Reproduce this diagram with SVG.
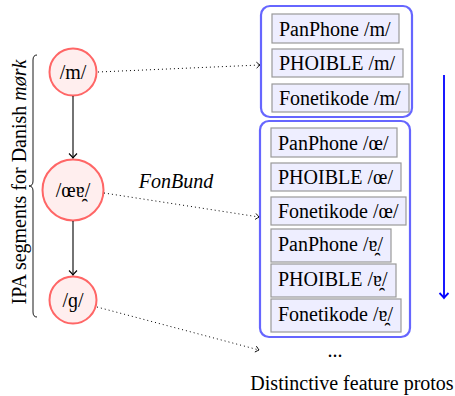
<svg xmlns="http://www.w3.org/2000/svg" width="455" height="396" viewBox="0 0 455 396">
  <style>
    text { font-family: "Liberation Serif", "Times New Roman", serif; font-size: 20px; fill: #000; }
    .seg circle { fill: #ffeeee; stroke: #ff6666; stroke-width: 2; }
    .seg text { text-anchor: middle; }
    .group { fill: none; stroke: #6666ff; stroke-width: 2.2; }
    .proto rect { fill: #eeeeff; stroke: #999999; stroke-width: 1.2; }
    .flow { fill: none; stroke: #000; stroke-width: 1.1; }
    .map { fill: none; stroke: #000; stroke-width: 1; stroke-dasharray: 1 3; }
    .order { fill: none; stroke: #0000ff; stroke-width: 1.8; }
  </style>
  <defs>
    <marker id="tip" markerUnits="userSpaceOnUse" markerWidth="12" markerHeight="12" refX="0" refY="0" viewBox="-6 -6 12 12" orient="auto" overflow="visible">
      <path d="M -4.5 -4 Q -1.5 -1 0 0 Q -1.5 1 -4.5 4" fill="none" stroke="#000" stroke-width="1.1"/>
    </marker>
    <marker id="tipSmall" markerUnits="userSpaceOnUse" markerWidth="10" markerHeight="10" refX="0" refY="0" viewBox="-5 -5 10 10" orient="auto" overflow="visible">
      <path d="M -3.5 -3 Q -1 -0.8 0 0 Q -1 0.8 -3.5 3" fill="none" stroke="#000" stroke-width="0.9"/>
    </marker>
    <marker id="tipBlue" markerUnits="userSpaceOnUse" markerWidth="12" markerHeight="12" refX="0" refY="0" viewBox="-6 -6 12 12" orient="auto" overflow="visible">
      <path d="M -5 -4.5 Q -1.5 -1 0 0 Q -1.5 1 -5 4.5" fill="none" stroke="#0000ff" stroke-width="1.8"/>
    </marker>
  </defs>

  <!-- brace and vertical caption -->
  <g id="caption">
    <path d="M 37 55 Q 33 55 33 60 L 33 181 Q 33 186 29 186 Q 33 186 33 191 L 33 312 Q 33 317 37 317" fill="none" stroke="#000" stroke-width="0.9"/>
    <text transform="translate(26,182) rotate(-90)" text-anchor="middle" font-size="20.8">IPA segments for Danish <tspan font-style="italic">mørk</tspan></text>
  </g>

  <!-- IPA segment nodes -->
  <g id="seg-m" class="seg">
    <circle cx="73" cy="72" r="23.5"/>
    <text x="73" y="79">/m/</text>
  </g>
  <g id="seg-oe" class="seg">
    <circle cx="73" cy="190" r="30.5"/>
    <text x="73" y="197">/œɐ̯/</text>
  </g>
  <g id="seg-g" class="seg">
    <circle cx="73" cy="300" r="23.5"/>
    <text x="73" y="307">/ɡ/</text>
  </g>

  <!-- feature proto groups -->
  <g id="protos-m">
    <rect class="group" x="261" y="6" width="151" height="111" rx="9"/>
    <g class="proto">
      <rect x="272" y="14" width="127" height="29"/>
      <text x="279" y="36">PanPhone /m/</text>
      <rect x="272" y="49" width="131" height="28"/>
      <text x="279" y="70">PHOIBLE /m/</text>
      <rect x="272" y="84" width="137" height="28"/>
      <text x="279" y="105">Fonetikode /m/</text>
    </g>
  </g>
  <g id="protos-oe">
    <rect class="group" x="260" y="121" width="150" height="216" rx="9"/>
    <g class="proto">
      <rect x="271" y="128" width="126" height="29"/>
      <text x="278" y="150">PanPhone /œ/</text>
      <rect x="271" y="163" width="130" height="28"/>
      <text x="278" y="184">PHOIBLE /œ/</text>
      <rect x="271" y="197" width="135" height="28"/>
      <text x="278" y="218">Fonetikode /œ/</text>
      <rect x="271" y="229" width="120" height="33"/>
      <text x="278" y="251">PanPhone /ɐ̯/</text>
      <rect x="271" y="264" width="125" height="33"/>
      <text x="278" y="286">PHOIBLE /ɐ̯/</text>
      <rect x="271" y="299" width="130" height="33"/>
      <text x="278" y="321">Fonetikode /ɐ̯/</text>
    </g>
  </g>

  <g id="protos-more">
    <text x="335" y="357" text-anchor="middle">...</text>
  </g>

  <g id="labels">
    <text x="176" y="188" text-anchor="middle" font-style="italic">FonBund</text>
    <text x="352" y="390" text-anchor="middle">Distinctive feature protos</text>
  </g>

  <!-- connectors -->
  <g id="connectors">
    <path class="flow" d="M 73 96 L 73 158" marker-end="url(#tip)"/>
    <path class="flow" d="M 73 221 L 73 275" marker-end="url(#tip)"/>
    <path class="map" d="M 98 72 L 260 65" marker-end="url(#tipSmall)"/>
    <path class="map" d="M 104 193 L 259 217" marker-end="url(#tipSmall)"/>
    <path class="map" d="M 97 307 L 259 350" marker-end="url(#tipSmall)"/>
    <path class="order" d="M 444 75 L 444 298" marker-end="url(#tipBlue)"/>
  </g>
</svg>
